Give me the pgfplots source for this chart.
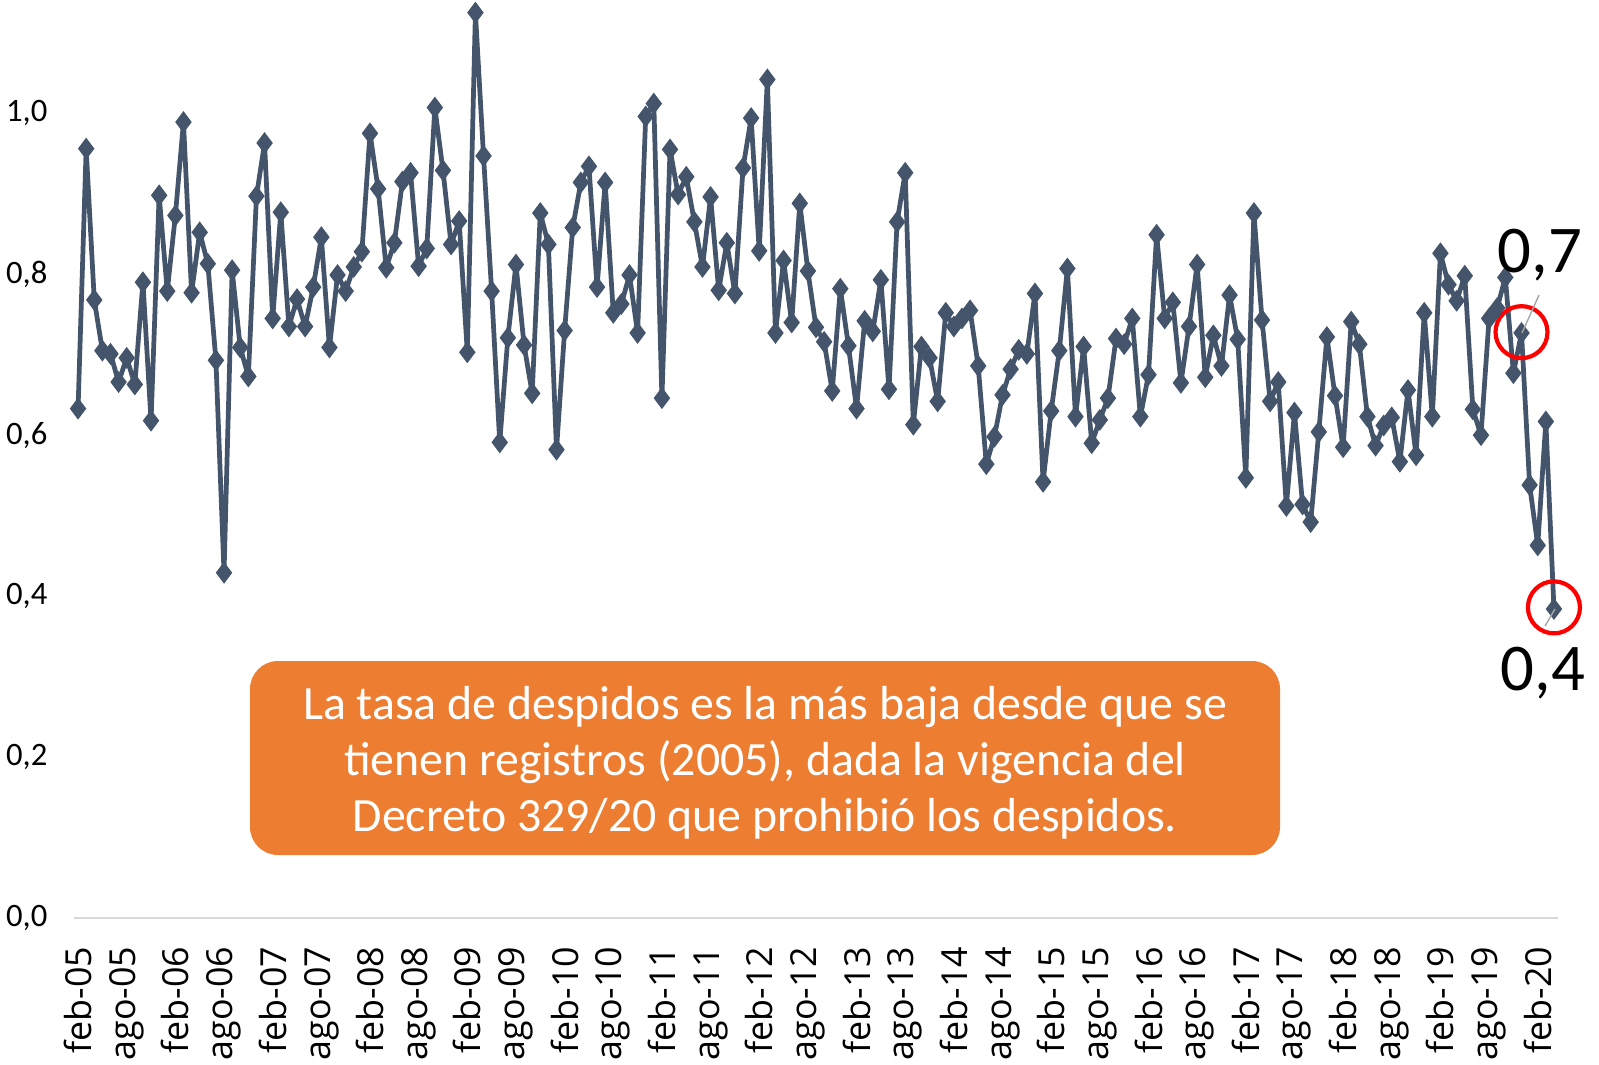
\documentclass[border=0pt]{standalone}
\usepackage{fontspec}
\setmainfont{Carlito}
\newfontfamily\tickfont{Open Sans}
\usepackage{pgfplots}
\pgfplotsset{compat=1.18}
\definecolor{serie}{HTML}{44546A}
\definecolor{naranja}{HTML}{ED7D31}
\definecolor{ejegris}{HTML}{D9D9D9}
\begin{document}
\begin{tikzpicture}
\useasboundingbox (-7.4mm,-14.6mm) rectangle (152.5mm,91.8mm);
\begin{axis}[
  at={(0,0)}, anchor=south west,
  scale only axis, width=148.4mm, height=91.8mm,
  xmin=0.5, xmax=183.5, ymin=0, ymax=1.1407,
  clip=false,
  axis lines=left,
  y axis line style={draw=none},
  x axis line style={draw=ejegris, line width=0.6pt, -},
  major tick length=0pt,
  xtick={1,7,...,181},
  xticklabels={feb-05,ago-05,feb-06,ago-06,feb-07,ago-07,feb-08,ago-08,feb-09,ago-09,feb-10,ago-10,feb-11,ago-11,feb-12,ago-12,feb-13,ago-13,feb-14,ago-14,feb-15,ago-15,feb-16,ago-16,feb-17,ago-17,feb-18,ago-18,feb-19,ago-19,feb-20},
  xticklabel style={rotate=90, anchor=east, font=\tickfont\fontsize{10.2}{12}\selectfont, inner sep=0pt, xshift=-2.8mm},
  ytick={0,0.2,0.4,0.6,0.8,1.0},
  yticklabels={{0,0},{0,2},{0,4},{0,6},{0,8},{1,0}},
  yticklabel style={font=\fontsize{9.3}{11}\selectfont, anchor=east, inner sep=0pt, xshift=-2.6mm},
]
\addplot[color=serie, line width=1.35pt, line join=round, mark=diamond*, mark size=2pt, mark options={solid, fill=serie, draw=serie, line join=miter}] coordinates {
(1,0.633)(2,0.956)(3,0.768)(4,0.705)(5,0.701)(6,0.666)(7,0.696)(8,0.663)(9,0.790)(10,0.618)
(11,0.898)(12,0.779)(13,0.873)(14,0.989)(15,0.777)(16,0.852)(17,0.813)(18,0.693)(19,0.429)(20,0.805)
(21,0.709)(22,0.673)(23,0.897)(24,0.963)(25,0.745)(26,0.877)(27,0.735)(28,0.769)(29,0.735)(30,0.784)
(31,0.846)(32,0.709)(33,0.799)(34,0.779)(35,0.809)(36,0.828)(37,0.975)(38,0.906)(39,0.808)(40,0.839)
(41,0.915)(42,0.926)(43,0.810)(44,0.832)(45,1.007)(46,0.929)(47,0.837)(48,0.866)(49,0.703)(50,1.125)
(51,0.947)(52,0.779)(53,0.591)(54,0.721)(55,0.812)(56,0.712)(57,0.652)(58,0.876)(59,0.837)(60,0.582)
(61,0.730)(62,0.858)(63,0.914)(64,0.934)(65,0.784)(66,0.914)(67,0.752)(68,0.763)(69,0.799)(70,0.727)
(71,0.996)(72,1.012)(73,0.646)(74,0.955)(75,0.899)(76,0.921)(77,0.865)(78,0.809)(79,0.896)(80,0.780)
(81,0.839)(82,0.776)(83,0.932)(84,0.994)(85,0.829)(86,1.042)(87,0.727)(88,0.817)(89,0.740)(90,0.888)
(91,0.804)(92,0.734)(93,0.716)(94,0.655)(95,0.782)(96,0.711)(97,0.633)(98,0.742)(99,0.729)(100,0.793)
(101,0.657)(102,0.865)(103,0.926)(104,0.613)(105,0.710)(106,0.696)(107,0.642)(108,0.752)(109,0.735)(110,0.745)
(111,0.755)(112,0.686)(113,0.564)(114,0.598)(115,0.650)(116,0.682)(117,0.706)(118,0.701)(119,0.776)(120,0.542)
(121,0.630)(122,0.705)(123,0.807)(124,0.623)(125,0.710)(126,0.590)(127,0.619)(128,0.646)(129,0.720)(130,0.713)
(131,0.745)(132,0.623)(133,0.675)(134,0.849)(135,0.745)(136,0.765)(137,0.665)(138,0.735)(139,0.812)(140,0.672)
(141,0.724)(142,0.686)(143,0.774)(144,0.719)(145,0.547)(146,0.876)(147,0.743)(148,0.642)(149,0.666)(150,0.512)
(151,0.628)(152,0.514)(153,0.492)(154,0.604)(155,0.722)(156,0.649)(157,0.585)(158,0.741)(159,0.713)(160,0.623)
(161,0.587)(162,0.612)(163,0.622)(164,0.567)(165,0.656)(166,0.575)(167,0.752)(168,0.623)(169,0.826)(170,0.787)
(171,0.767)(172,0.798)(173,0.632)(174,0.600)(175,0.745)(176,0.758)(177,0.796)(178,0.677)(179,0.727)(180,0.538)
(181,0.463)(182,0.617)(183,0.384)
};
\draw[red, line width=0.42mm] (axis cs:179,0.728) circle[radius=2.6mm];
\draw[red, line width=0.42mm] (axis cs:183,0.386) circle[radius=2.6mm];
\end{axis}
\draw[gray!70, line width=0.4pt] (144.8mm,58.5mm) -- (146.5mm,62.3mm);
\draw[gray!70, line width=0.4pt] (148.1mm,30.9mm) -- (147.1mm,29.2mm);
\node[font=\fontsize{19}{22}\selectfont, inner sep=0pt] at (146.6mm,66.3mm) {0,7};
\node[font=\fontsize{19}{22}\selectfont, inner sep=0pt] at (146.9mm,24.5mm) {0,4};
\fill[naranja, rounded corners=2.8mm] (17.6mm,6.3mm) rectangle (120.6mm,25.7mm);
\node[text=white, align=center, font=\fontsize{13.6}{15.9}\selectfont, inner sep=0pt] at (69.1mm,15.5mm)
  {La tasa de despidos es la más baja desde que se\\tienen registros (2005), dada la vigencia del\\Decreto 329/20 que prohibió los despidos.};
\end{tikzpicture}
\end{document}
